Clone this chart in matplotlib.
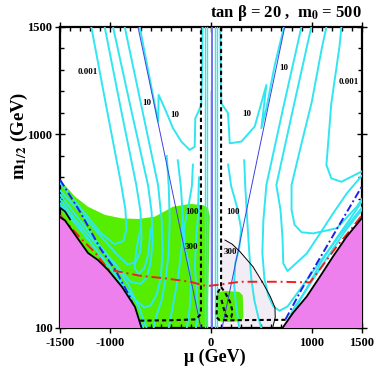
import numpy as np
import matplotlib.pyplot as plt
from matplotlib.ticker import MultipleLocator, FixedLocator

# ---- data: (mu, m_1/2) in GeV ----
stau_left = [(-1500, 615), (-1450, 600), (-1222, 449), (-1123, 416), (-1023, 370),
             (-884, 291), (-755, 198), (-690, 100)]
stau_right = [(1500, 612), (1347, 525), (1211, 432), (1082, 339), (950, 246),
              (814, 170), (710, 100)]

green_top = [(-1500, 790), (-1351, 711), (-1222, 664), (-1053, 626), (-887, 610),
             (-725, 607), (-557, 618), (-378, 664), (-209, 677), (-80, 672),
             (-30, 658), (-12, 620), (-18, 450), (-28, 250), (-35, 100)]
green_patch = [(55, 250), (80, 268), (150, 272), (280, 268), (315, 252), (322, 150),
               (300, 132), (150, 128), (70, 132), (52, 160)]

lav_curve = [(100, 490), (139, 509), (210, 490), (288, 455), (417, 385), (516, 309),
             (590, 245), (635, 195), (638, 150), (612, 100)]

center_band = (-10, 20, 1200)   # mu_lo, mu_hi, m_top

# cyan contours
cy_l1 = [(-1189, 1500), (-1040, 1130), (-891, 765), (-850, 650), (-840, 560), (-870, 505),
         (-960, 490), (-1100, 545), (-1300, 660), (-1500, 775)]
cy_l2 = [(-1056, 1500), (-900, 1130), (-742, 765), (-700, 640), (-690, 520), (-705, 450),
         (-750, 405), (-830, 395), (-950, 450), (-1100, 530), (-1300, 640), (-1500, 740)]
cy_l3 = [(-973, 1500), (-800, 1130), (-626, 765), (-590, 640), (-580, 500), (-600, 400),
         (-640, 335), (-700, 305), (-800, 315), (-950, 395), (-1150, 495), (-1350, 605),
         (-1500, 700)]
cy_l4 = [(-857, 1500), (-690, 1130), (-526, 765), (-490, 600), (-480, 450), (-500, 330),
         (-540, 255), (-600, 205), (-660, 195), (-760, 235), (-900, 320), (-1100, 440),
         (-1300, 560), (-1500, 665)]
cy_l10 = [(-708, 1500), (-617, 1280), (-526, 1060), (-520, 1184), (-460, 1122),
          (-377, 1029), (-295, 967), (-212, 928), (-162, 943), (-156, 1075),
          (-96, 1137), (-88, 1300), (-84, 1500)]
cy_l5 = [(-440, 900), (-420, 760), (-410, 600), (-420, 450), (-450, 330), (-490, 230),
         (-540, 160), (-570, 100)]
cy_l6 = [(-330, 880), (-300, 760), (-280, 620), (-290, 480), (-320, 360), (-360, 250),
         (-400, 150), (-420, 100)]
cy_l7 = [(-600, 560), (-620, 450), (-660, 380), (-720, 350), (-760, 380), (-740, 470),
         (-700, 560)]
cy_l100 = [(-180, 860), (-190, 760), (-230, 650), (-270, 560), (-260, 470), (-220, 400),
           (-200, 300), (-210, 200), (-240, 100)]
cy_l300 = [(-120, 800), (-130, 620), (-150, 500), (-160, 380), (-140, 260), (-130, 150),
           (-150, 100)]
cy_edge_l1 = [(-1500, 720), (-1300, 600), (-1100, 480), (-950, 395), (-820, 300),
              (-720, 200), (-640, 100)]
cy_edge_l2 = [(-1500, 680), (-1300, 560), (-1100, 440), (-950, 350), (-820, 255),
              (-730, 160), (-670, 100)]

cy_r10 = [(725, 1500), (633, 1323), (550, 1122), (500, 1029), (550, 1230), (434, 1037),
          (301, 967), (186, 959), (169, 1099), (102, 1145), (96, 1300), (92, 1500)]
cy_r2 = [(898, 1500), (720, 1130), (550, 765), (520, 600), (510, 450), (530, 330),
         (570, 250), (620, 200), (680, 180), (760, 200), (900, 290), (1100, 420),
         (1300, 545), (1500, 660)]
cy_r3 = [(996, 1500), (820, 1130), (649, 765), (690, 650), (710, 520), (718, 400),
         (760, 365), (950, 446), (1082, 539), (1211, 632), (1347, 725), (1500, 810)]
cy_r4 = [(1146, 1500), (1100, 1400), (1000, 1150), (900, 960), (800, 765), (800, 650),
         (830, 580), (900, 545), (1016, 540), (1249, 564), (1447, 664), (1500, 700)]
cy_r5 = [(1295, 1500), (1278, 1416), (1195, 1145), (1146, 858), (1195, 796),
         (1295, 780), (1493, 827)]
cy_r100 = [(170, 860), (200, 760), (260, 660), (300, 560), (280, 470), (240, 400),
           (230, 300), (250, 200), (280, 100)]
cy_r6 = [(330, 880), (340, 760), (360, 600), (380, 450), (400, 330), (430, 230),
         (470, 150), (500, 100)]
cy_edge_r1 = [(730, 100), (820, 190), (950, 280), (1082, 375), (1211, 468), (1347, 560),
              (1500, 650)]
cy_edge_r2 = [(760, 100), (850, 200), (980, 310), (1100, 410), (1250, 520), (1400, 620),
              (1500, 690)]

cy_center = [-62, -38, 40, 62]

# blue lines
blue_left = [(-725, 1500), (-100, 100)]
blue_right = [(732, 1500), (110, 100)]
blue_center = [-4, 12]
blue_dd_left = [(-1500, 790), (-1300, 640), (-1100, 470), (-950, 370), (-800, 240),
                (-720, 140)]
blue_dd_right = [(740, 140), (900, 280), (1050, 400), (1200, 520), (1350, 640),
                 (1500, 760)]

# red (m_h) line
red_line = [(-1500, 625), (-1300, 520), (-1150, 450), (-1020, 372), (-706, 343),
            (-457, 331), (-209, 315), (-43, 295), (56, 300), (288, 315), (685, 315),
            (983, 312), (1100, 385), (1250, 480), (1400, 565), (1500, 625)]

# black dashed
dash_left = [(-704, 134), (-400, 136), (-150, 140), (-100, 165), (-100, 1500)]
dash_right = [(100, 1500), (100, 290), (62, 262), (55, 150), (80, 138), (200, 136),
              (400, 137), (748, 138)]
dash_loop = [(100, 290), (140, 265), (190, 220), (215, 175), (200, 150), (150, 155),
             (120, 200), (100, 240)]
black_arc = [(-1500, 660), (-1450, 642), (-1400, 605)]

labels = [(-1222, 1291, "0.001"), (-639, 1148, "10"), (-358, 1091, "10"),
          (1364, 1246, "0.001"), (718, 1308, "10"), (355, 1095, "10"),
          (-192, 641, "100"), (222, 641, "100"), (-192, 478, "300"), (189, 455, "300")]

# ---- figure ----
plt.rcParams['font.family'] = ['Liberation Serif', 'DejaVu Serif']
plt.rcParams['mathtext.fontset'] = 'stix'
plt.rcParams['axes.unicode_minus'] = False
fig = plt.figure(figsize=(3.74, 3.78), dpi=100)
ax = fig.add_axes([0.1604, 0.1323, 0.8076, 0.7963])
ax.set_xlim(-1500, 1500)
ax.set_ylim(100, 1500)

def xy(pts):
    a = np.array(pts, dtype=float)
    return a[:, 0], a[:, 1]

# green region
gx, gy = xy(green_top)
ax.fill(np.r_[gx, -1500], np.r_[gy, 100], color='#55EE00', lw=0, zorder=1)
px, py = xy(green_patch)
ax.fill(px, py, color='#55EE00', lw=0, zorder=1)

# lavender region
lx, ly = xy(lav_curve)
ax.fill(np.r_[lx, 100], np.r_[ly, 100], color='#F2ECF4', lw=0, zorder=0.5)
ax.plot(lx[1:], ly[1:], color='black', lw=0.7, zorder=4)

# center band
ax.fill_between([center_band[0], center_band[1]], 100, center_band[2],
                color='#D6D6F8', lw=0, zorder=2)

# cyan contours
for c in [cy_l1, cy_l2, cy_l3, cy_l4, cy_l10, cy_l5, cy_l6, cy_l7, cy_l100, cy_l300,
          cy_edge_l1, cy_edge_l2, cy_r10, cy_r2, cy_r3, cy_r4, cy_r5, cy_r100, cy_r6,
          cy_edge_r1, cy_edge_r2]:
    cx, cyv = xy(c)
    ax.plot(cx, cyv, color='#30E6F0', lw=1.4, zorder=3)
for v in cy_center:
    ax.plot([v, v], [100, 1500], color='#30E6F0', lw=1.0, zorder=3)

# blue lines
for b in [blue_left, blue_right]:
    bx, by = xy(b)
    ax.plot(bx, by, color='#4040E0', lw=0.7, zorder=3.5)
for v in blue_center:
    ax.plot([v, v], [100, 1500], color='#7070F0', lw=0.7, zorder=3.5)
for b in [blue_dd_left, blue_dd_right]:
    bx, by = xy(b)
    ax.plot(bx, by, color='#2020E8', lw=1.4, ls=(0, (4, 1.5, 1, 1.5)), zorder=3.6)

# red line
rx, ry = xy(red_line)
ax.plot(rx, ry, color='#F02020', lw=1.4, ls=(0, (5, 2, 1, 2)), zorder=3.7)

# stau LSP regions
sx, sy = xy(stau_left)
ax.fill(np.r_[sx, -1500], np.r_[sy, 100], color='#EE80EE', lw=0, zorder=5)
ax.plot(sx, sy, color='black', lw=1.3, zorder=6)
sx, sy = xy(stau_right)
ax.fill(np.r_[sx, 1500], np.r_[sy, 100], color='#EE80EE', lw=0, zorder=5)
ax.plot(sx, sy, color='black', lw=1.3, zorder=6)
ax.plot(*xy(black_arc), color='black', lw=1.2, zorder=6)

# dashed black
for d in [dash_left, dash_right, dash_loop]:
    dx, dy = xy(d)
    ax.plot(dx, dy, color='black', lw=1.5, ls=(0, (2, 1.5)), zorder=6)

for x0, y0, s in labels:
    ax.text(x0, y0, s, fontsize=6.5, fontweight='bold', ha='center', va='center', zorder=7)

# axes styling
ax.xaxis.set_major_locator(FixedLocator([-1500, -1000, 0, 1000, 1500]))
ax.xaxis.set_minor_locator(MultipleLocator(100))
ax.yaxis.set_major_locator(FixedLocator([100, 1000, 1500]))
ax.yaxis.set_minor_locator(MultipleLocator(100))
ax.tick_params(which='both', top=True, right=True, labelsize=9, width=1.0)
ax.tick_params(which='major', direction='inout', length=7)
ax.tick_params(which='minor', direction='in', length=3)
ax.tick_params(axis='x', which='major', pad=3)
ax.tick_params(axis='y', which='major', pad=2)
for lab in ax.get_xticklabels() + ax.get_yticklabels():
    lab.set_fontweight('bold')
for sp in ax.spines.values():
    sp.set_linewidth(1.6)

ax.set_xlabel('μ (GeV)', fontsize=13, fontweight='bold')
ax.xaxis.set_label_coords(0.513, -0.07)
ax.set_ylabel('m$_{\\mathbf{1/2}}$ (GeV)', fontsize=13.5, fontweight='bold')
ax.yaxis.set_label_coords(-0.10, 0.638)
fig.text(0.968, 0.965, 'tan β = 20 ,  m$_{\\mathbf{0}}$ = 500', fontsize=12,
         fontweight='bold', ha='right', va='center')

fig.savefig('out.png', dpi=100)
